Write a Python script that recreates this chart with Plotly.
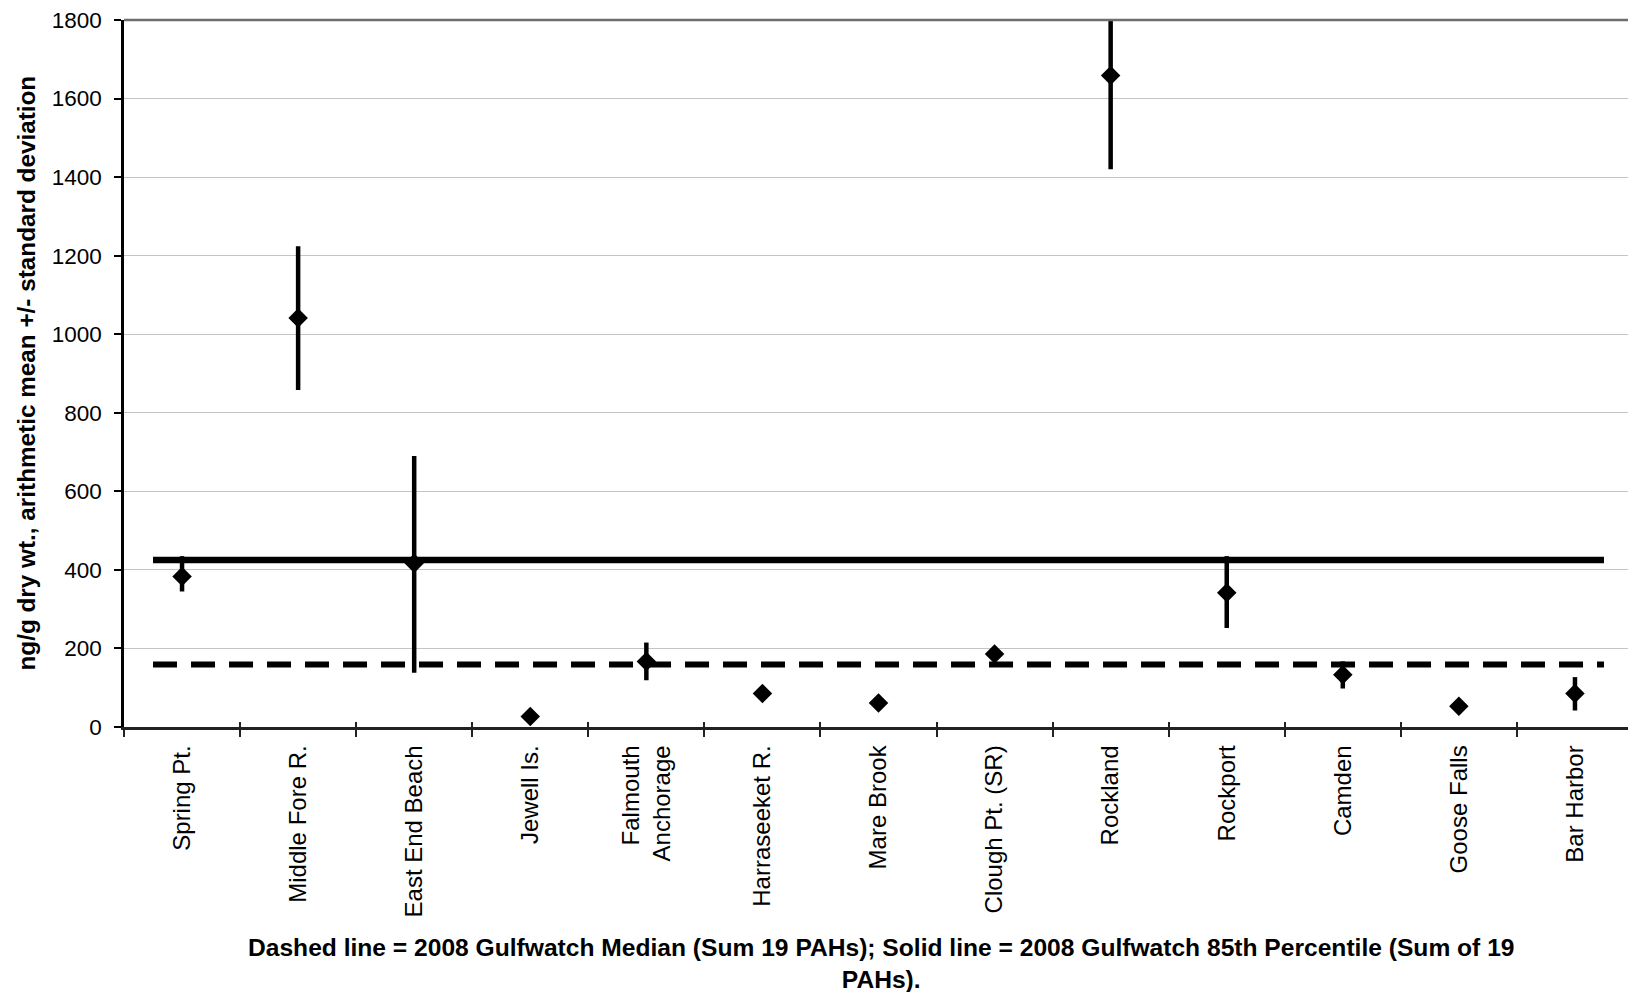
import plotly.graph_objects as go

sites = ["Spring Pt.", "Middle Fore R.", "East End Beach", "Jewell Is.",
         "Falmouth<br>Anchorage", "Harraseeket R.", "Mare Brook", "Clough Pt. (SR)",
         "Rockland", "Rockport", "Camden", "Goose Falls", "Bar Harbor"]
mean_vals = [383, 1041, 417, 27, 167, 85, 61, 186, 1659, 342, 133, 53, 85]
upper_vals = [435, 1224, 690, 32, 215, 93, 68, 196, 1820, 435, 167, 58, 127]
lower_vals = [345, 858, 138, 22, 119, 77, 54, 176, 1420, 252, 98, 48, 42]
median_2008 = 159   # dashed line
p85_2008 = 425      # solid line
y_ticks = [0, 200, 400, 600, 800, 1000, 1200, 1400, 1600, 1800]

FONT = "Liberation Sans, Arial, sans-serif"
xpos = list(range(len(sites)))
bounds = [i - 0.5 for i in range(len(sites) + 1)]
err_plus = [u - m for u, m in zip(upper_vals, mean_vals)]
err_minus = [m - l for m, l in zip(mean_vals, lower_vals)]

fig = go.Figure()

# reference lines
fig.add_trace(go.Scatter(x=[-0.25, len(sites) - 0.75], y=[p85_2008, p85_2008], mode="lines",
                         line=dict(color="black", width=6.5), showlegend=False, hoverinfo="skip"))
fig.add_trace(go.Scatter(x=[-0.25, len(sites) - 0.75], y=[median_2008, median_2008], mode="lines",
                         line=dict(color="black", width=6, dash="24px,14px"), showlegend=False,
                         hoverinfo="skip"))

fig.add_trace(go.Scatter(
    x=xpos, y=mean_vals, mode="markers",
    marker=dict(symbol="diamond", size=15, color="black"),
    error_y=dict(type="data", symmetric=False, array=err_plus, arrayminus=err_minus,
                 color="black", thickness=4.5, width=0),
    cliponaxis=False, showlegend=False))

# dummy trace for overlay axis (inner half of crossing ticks)
fig.add_trace(go.Scatter(x=[None], y=[None], xaxis="x2", yaxis="y", showlegend=False,
                         hoverinfo="skip"))

PL, PT, PW, PH = 116, 12, 1509, 707   # plot area in figure coordinates

fig.update_layout(
    width=1636, height=992,
    margin=dict(l=PL, r=1636 - PL - PW, t=PT, b=992 - PT - PH, autoexpand=False),
    paper_bgcolor="white", plot_bgcolor="white",
    font=dict(family=FONT, color="black", size=22),
    xaxis=dict(range=[-0.5, len(sites) - 0.5], tickmode="array", tickvals=xpos, ticktext=sites,
               tickangle=-90, ticks="", ticklabelstandoff=6, showgrid=False, zeroline=False,
               showline=True, linecolor="#222", linewidth=2.5, automargin=False,
               tickfont=dict(size=24, family=FONT),
               minor=dict(tickmode="array", tickvals=bounds, ticks="outside", ticklen=7,
                          tickwidth=1.5, tickcolor="#222", showgrid=False)),
    xaxis2=dict(overlaying="x", matches="x", anchor="y", side="bottom", tickmode="array",
                tickvals=bounds, ticks="inside", ticklen=5, tickwidth=1.5, tickcolor="#222",
                showticklabels=False, showgrid=False, showline=False, zeroline=False,
                automargin=False),
    yaxis=dict(range=[0, 1800], tickmode="array", tickvals=y_ticks, ticks="outside", ticklen=7,
               tickwidth=1.5, tickcolor="black", showline=True, linecolor="black", linewidth=2.5,
               showgrid=True, gridcolor="#c4c4c4", gridwidth=1, zeroline=False, automargin=False,
               ticklabelstandoff=8, ticklabeloverflow="allow",
               tickfont=dict(size=22.5, family=FONT)),
    shapes=[
        dict(type="line", xref="paper", yref="paper", x0=0, x1=1, y0=1, y1=1,
             line=dict(color="#6e6e6e", width=2.5)),
        dict(type="line", xref="paper", yref="paper", x0=1, x1=1, y0=0, y1=1,
             line=dict(color="#9a9a9a", width=1.5)),
    ],
    annotations=[
        dict(text="<b>ng/g dry wt., arithmetic mean +/- standard deviation</b>",
             xref="paper", yref="paper", x=(26 - 124) / PW, y=0.5, xanchor="center",
             yanchor="middle", textangle=-90, showarrow=False, font=dict(size=24.3, family=FONT)),
        dict(text="<b>Dashed line = 2008 Gulfwatch Median (Sum 19 PAHs); Solid line = 2008 Gulfwatch "
                  "85th Percentile (Sum of 19<br>PAHs).</b>",
             xref="paper", yref="paper", x=(881 - 124) / PW, y=-(964 - 727) / PH,
             xanchor="center", yanchor="middle", showarrow=False, align="center",
             font=dict(size=24.6, family=FONT)),
    ],
)

fig.write_html("out.html")
